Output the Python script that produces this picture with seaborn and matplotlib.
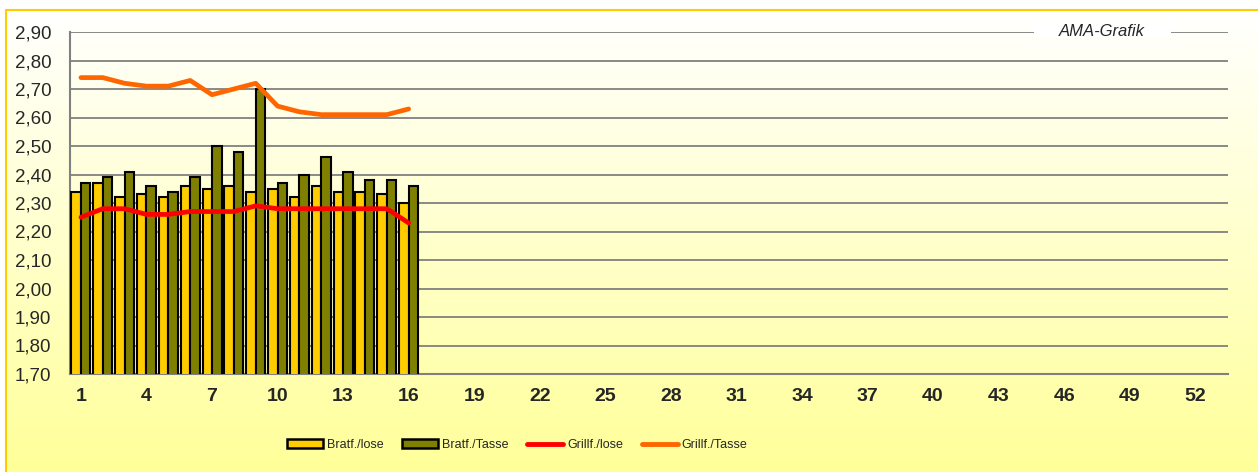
import numpy as np
import pandas as pd
import matplotlib
matplotlib.use('Agg')
import matplotlib.pyplot as plt
from matplotlib.patches import Patch, Rectangle
from matplotlib.lines import Line2D
import seaborn as sns

# Weekly prices (EUR) - weeks 1..16
weeks = list(range(1, 17))
bratf_lose = [2.34, 2.37, 2.32, 2.33, 2.32, 2.36, 2.35, 2.36,
              2.34, 2.35, 2.32, 2.36, 2.34, 2.34, 2.33, 2.30]
bratf_tasse = [2.37, 2.39, 2.41, 2.36, 2.34, 2.39, 2.50, 2.48,
               2.70, 2.37, 2.40, 2.46, 2.41, 2.38, 2.38, 2.36]
grillf_lose = [2.25, 2.28, 2.28, 2.26, 2.26, 2.27, 2.27, 2.27,
               2.29, 2.28, 2.28, 2.28, 2.28, 2.28, 2.28, 2.23]
grillf_tasse = [2.74, 2.74, 2.72, 2.71, 2.71, 2.73, 2.68, 2.70,
                2.72, 2.64, 2.62, 2.61, 2.61, 2.61, 2.61, 2.63]
all_weeks = list(range(1, 54))
tick_labels = [str(w) if (w - 1) % 3 == 0 else '' for w in all_weeks]
y_ticks = np.round(np.arange(1.70, 2.91, 0.10), 2)

bar_names = ['Bratf./lose', 'Bratf./Tasse']
line_names = ['Grillf./lose', 'Grillf./Tasse']
bar_colors = ['#FFCC00', '#808000']
line_colors = ['#FF0000', '#FF6600']

sns.set_style('white')
plt.rcParams['font.family'] = ['Liberation Sans', 'DejaVu Sans']

W, H = 1258, 472
fig = plt.figure(figsize=(W / 100, H / 100), dpi=100)
fig.patch.set_facecolor('white')

# gradient background for the chart area (inside the gold border)
grad = np.linspace(0, 1, 256).reshape(-1, 1)
cmap = matplotlib.colors.LinearSegmentedColormap.from_list('bg', ['#FFFFFF', '#FFFF99'])
bg = fig.add_axes([6 / W, 0, 1 - 6 / W, 1 - 10 / H], zorder=0)
bg.imshow(grad, aspect='auto', cmap=cmap, extent=[0, 1, 0, 1], origin='upper')
bg.set_axis_off()
fig.add_artist(Line2D([6 / W, 1], [1 - 10 / H, 1 - 10 / H], color='#FFCC00', lw=1.5))
fig.add_artist(Line2D([6 / W, 6 / W], [0, 1 - 10 / H], color='#FFCC00', lw=1.5))

ax = fig.add_axes([70 / W, 1 - 374 / H, (1228 - 70) / W, (374 - 32) / H], zorder=1)
ax.patch.set_alpha(0)

df = pd.DataFrame({
    'week': weeks * 2,
    'price': bratf_lose + bratf_tasse,
    'series': [bar_names[0]] * len(weeks) + [bar_names[1]] * len(weeks),
})
sns.barplot(data=df, x='week', y='price', hue='series', order=all_weeks,
            hue_order=bar_names, palette=bar_colors, width=0.87,
            edgecolor='black', linewidth=1.5, saturation=1, legend=False,
            ax=ax, zorder=3)

pos = np.array(weeks) - 1
for vals, col in zip([grillf_lose, grillf_tasse], line_colors):
    sns.lineplot(x=pos, y=vals, color=col, lw=3.4, ax=ax, zorder=4,
                 solid_capstyle='round', solid_joinstyle='round')

ax.set_ylim(1.70, 2.90)
ax.set_xlim(-0.5, len(all_weeks) - 0.5)
ax.set_yticks(y_ticks)
ax.set_yticklabels([f'{v:.2f}'.replace('.', ',') for v in y_ticks], fontsize=13.5)
ax.set_xticks(range(len(all_weeks)))
ax.set_xticklabels(tick_labels, fontsize=14, fontweight='bold')
ax.set_xticks(np.arange(-0.5, len(all_weeks)), minor=True)
ax.tick_params(axis='x', which='major', length=0, pad=10)
ax.tick_params(axis='x', which='minor', length=5, color='#808080', width=1.2)
ax.tick_params(axis='y', length=5, color='#808080', width=1.2, pad=8.5)
ax.set_xlabel('')
ax.set_ylabel('')
ax.yaxis.grid(True, color='#808080', lw=1.3, zorder=0)
ax.set_axisbelow(True)
for s in ['top', 'right']:
    ax.spines[s].set_visible(False)
for s in ['left', 'bottom']:
    ax.spines[s].set_color('#808080')
    ax.spines[s].set_linewidth(1.5)

# white gap in the top gridline with the "AMA-Grafik" label
fig.add_artist(Rectangle((1034 / W, 1 - 38 / H), 137 / W, 14 / H,
                         transform=fig.transFigure, facecolor='white',
                         edgecolor='none', zorder=2))
fig.text(1102 / W, 1 - 31 / H, 'AMA-Grafik', ha='center', va='center',
         fontsize=12, style='italic', zorder=3)

handles = [Patch(facecolor=c, edgecolor='black', linewidth=1.8, label=n)
           for c, n in zip(bar_colors, bar_names)]
handles += [Line2D([], [], color=c, lw=3.5, label=n, solid_capstyle='round')
            for c, n in zip(line_colors, line_names)]
fig.legend(handles=handles, loc='center', bbox_to_anchor=(517 / W, 1 - 445 / H),
           ncol=4, frameon=False, fontsize=9,
           handlelength=2.9, handleheight=0.75, handletextpad=0.3, columnspacing=1.5)

fig.savefig('out.png', dpi=100)
